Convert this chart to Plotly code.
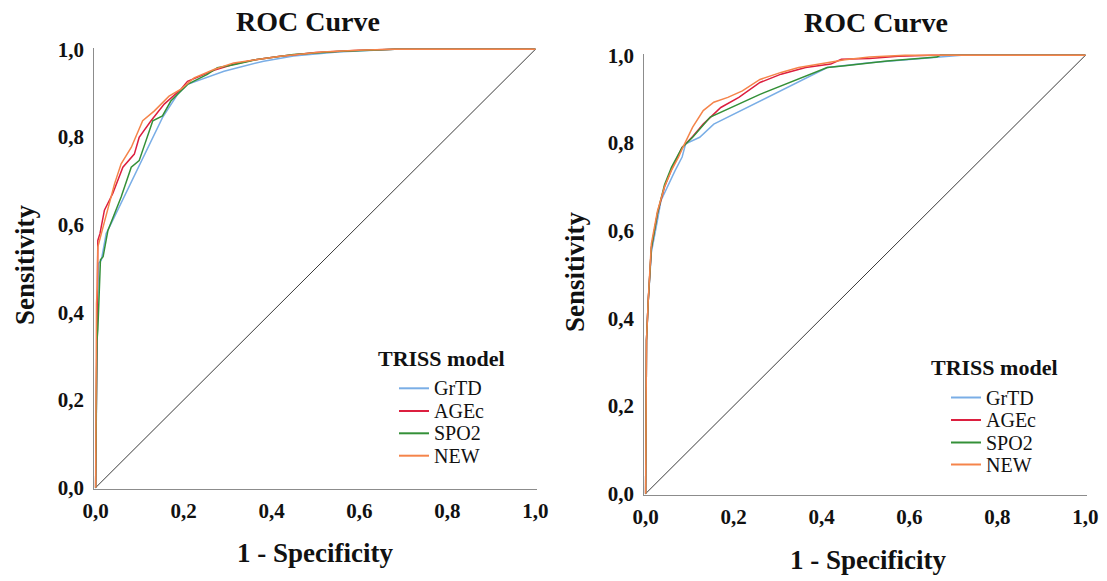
import plotly.graph_objects as go

W, H = 1107, 581
FONT = "Liberation Serif, Times New Roman, serif"

models = ["GrTD", "AGEc", "SPO2", "NEW"]
colors = {"GrTD": "#7aaee6", "AGEc": "#dc1f3f", "SPO2": "#349038", "NEW": "#f5844a"}

tick_vals = [0.0, 0.2, 0.4, 0.6, 0.8, 1.0]
tick_text = ["0,0", "0,2", "0,4", "0,6", "0,8", "1,0"]

# ---- Left chart: (1 - specificity, sensitivity) ----
left_grtd_x = [0, 0.002, 0.004, 0.007, 0.013, 0.024, 0.035, 0.152, 0.186, 0.209, 0.292, 0.382, 0.45, 0.55, 0.68, 1]
left_grtd_y = [0, 0.30, 0.40, 0.512, 0.519, 0.58, 0.602, 0.844, 0.897, 0.92, 0.95, 0.973, 0.985, 0.994, 1.0, 1]

left_agec_x = [0, 0.002, 0.004, 0.005, 0.01, 0.02, 0.039, 0.062, 0.088, 0.099, 0.126, 0.156, 0.194, 0.209, 0.269, 0.314, 0.367, 0.42, 0.5, 0.6, 0.68, 1]
left_agec_y = [0, 0.40, 0.47, 0.564, 0.58, 0.633, 0.671, 0.731, 0.761, 0.799, 0.837, 0.875, 0.909, 0.927, 0.952, 0.966, 0.977, 0.984, 0.993, 0.998, 1.0, 1]

left_spo2_x = [0, 0.003, 0.005, 0.008, 0.011, 0.017, 0.028, 0.058, 0.081, 0.099, 0.13, 0.152, 0.171, 0.209, 0.254, 0.277, 0.314, 0.367, 0.45, 0.55, 0.68, 1]
left_spo2_y = [0, 0.334, 0.36, 0.45, 0.52, 0.527, 0.587, 0.663, 0.731, 0.746, 0.837, 0.848, 0.882, 0.92, 0.943, 0.958, 0.965, 0.977, 0.988, 0.995, 1.0, 1]

left_new_x = [0, 0.002, 0.004, 0.005, 0.017, 0.032, 0.043, 0.058, 0.081, 0.107, 0.133, 0.167, 0.194, 0.224, 0.269, 0.314, 0.367, 0.42, 0.515, 0.596, 0.677, 1]
left_new_y = [0, 0.42, 0.46, 0.549, 0.595, 0.648, 0.693, 0.739, 0.776, 0.837, 0.859, 0.893, 0.909, 0.935, 0.954, 0.969, 0.977, 0.984, 0.994, 0.998, 1.0, 1]

# ---- Right chart ----
right_grtd_x = [0, 0.002, 0.006, 0.013, 0.027, 0.035, 0.067, 0.083, 0.091, 0.123, 0.155, 0.413, 0.509, 0.67, 0.718, 1]
right_grtd_y = [0, 0.35, 0.44, 0.55, 0.624, 0.669, 0.737, 0.768, 0.798, 0.813, 0.843, 0.972, 0.983, 0.995, 1.0, 1]

right_agec_x = [0, 0.002, 0.006, 0.013, 0.027, 0.043, 0.059, 0.083, 0.107, 0.131, 0.171, 0.212, 0.26, 0.308, 0.364, 0.421, 0.445, 0.509, 0.574, 0.65, 1]
right_agec_y = [0, 0.35, 0.44, 0.56, 0.64, 0.70, 0.74, 0.79, 0.815, 0.843, 0.881, 0.904, 0.938, 0.957, 0.972, 0.98, 0.991, 0.993, 0.998, 1.0, 1]

right_spo2_x = [0, 0.002, 0.006, 0.013, 0.027, 0.043, 0.059, 0.083, 0.107, 0.147, 0.26, 0.413, 0.453, 0.549, 0.662, 0.67, 1]
right_spo2_y = [0, 0.35, 0.44, 0.56, 0.64, 0.705, 0.745, 0.79, 0.813, 0.859, 0.911, 0.972, 0.976, 0.987, 0.996, 1.0, 1]

right_new_x = [0, 0.002, 0.006, 0.013, 0.027, 0.043, 0.059, 0.075, 0.088, 0.107, 0.131, 0.155, 0.187, 0.22, 0.26, 0.308, 0.348, 0.413, 0.453, 0.509, 0.59, 1]
right_new_y = [0, 0.35, 0.443, 0.57, 0.645, 0.70, 0.738, 0.768, 0.797, 0.836, 0.874, 0.893, 0.904, 0.919, 0.945, 0.961, 0.972, 0.983, 0.99, 0.996, 1.0, 1]

diag = [0, 1]

left_series = {"GrTD": (left_grtd_x, left_grtd_y), "AGEc": (left_agec_x, left_agec_y),
               "SPO2": (left_spo2_x, left_spo2_y), "NEW": (left_new_x, left_new_y)}
right_series = {"GrTD": (right_grtd_x, right_grtd_y), "AGEc": (right_agec_x, right_agec_y),
                "SPO2": (right_spo2_x, right_spo2_y), "NEW": (right_new_x, right_new_y)}

fig = go.Figure()

# diagonals
fig.add_trace(go.Scatter(x=diag, y=diag, mode="lines", line=dict(color="#3a3a3a", width=1),
                         showlegend=False, hoverinfo="skip", xaxis="x", yaxis="y"))
fig.add_trace(go.Scatter(x=diag, y=diag, mode="lines", line=dict(color="#3a3a3a", width=1),
                         showlegend=False, hoverinfo="skip", xaxis="x2", yaxis="y2"))

for m in models:
    xs, ys = left_series[m]
    fig.add_trace(go.Scatter(x=xs, y=ys, mode="lines", name=m, showlegend=False,
                             line=dict(color=colors[m], width=1.5), xaxis="x", yaxis="y"))
for m in models:
    xs, ys = right_series[m]
    fig.add_trace(go.Scatter(x=xs, y=ys, mode="lines", name=m, showlegend=False,
                             line=dict(color=colors[m], width=1.5), xaxis="x2", yaxis="y2"))

def px_x(p):
    return p / W

def px_y(p):
    return 1 - p / H

axis_common = dict(range=[-0.003, 1.003], showgrid=False, zeroline=False, showline=True,
                   linecolor="#8c8c8c", linewidth=1, ticks="", tickvals=tick_vals, ticktext=tick_text,
                   automargin=False,
                   tickfont=dict(family=FONT, size=21, color="#111", weight="bold"), fixedrange=True)

fig.update_layout(
    width=W, height=H, margin=dict(l=0, r=0, t=0, b=0, pad=0, autoexpand=False),
    paper_bgcolor="white", plot_bgcolor="white", showlegend=False,
    xaxis=dict(domain=[px_x(94.3), px_x(536.7)], anchor="y", **axis_common, ticklabelstandoff=3),
    yaxis=dict(domain=[px_y(489), px_y(48)], anchor="x", **axis_common, ticklabelstandoff=5),
    xaxis2=dict(domain=[px_x(644.3), px_x(1086.7)], anchor="y2", **axis_common, ticklabelstandoff=3),
    yaxis2=dict(domain=[px_y(495), px_y(54)], anchor="x2", **axis_common, ticklabelstandoff=5),
)

def ann(text, x, y, size, bold=True, angle=0, xanchor="center"):
    fig.add_annotation(text=text, x=px_x(x), y=px_y(y), xref="paper", yref="paper",
                       showarrow=False, textangle=angle, xanchor=xanchor, yanchor="middle",
                       font=dict(family=FONT, size=size, color="#111", weight="bold" if bold else "normal"))

ann("ROC Curve", 308, 22, 28)
ann("ROC Curve", 876, 23, 28)
ann("1 - Specificity", 315, 553, 27)
ann("1 - Specificity", 868, 560, 27)
ann("Sensitivity", 25, 265, 27, angle=-90)
ann("Sensitivity", 575, 272, 27, angle=-90)

# manual legends (title, sample lines, labels)
legend_specs = [
    dict(title_x=441, title_y=358, line_x0=399, line_x1=429, text_x=432, ys=[388.3, 411.0, 433.3, 455.7]),
    dict(title_x=994, title_y=367, line_x0=951, line_x1=981, text_x=984, ys=[397.5, 420.0, 442.5, 464.5]),
]
for spec in legend_specs:
    ann("TRISS model", spec["title_x"], spec["title_y"], 22)
    for m, yy in zip(models, spec["ys"]):
        fig.add_shape(type="line", xref="paper", yref="paper",
                      x0=px_x(spec["line_x0"]), x1=px_x(spec["line_x1"]), y0=px_y(yy), y1=px_y(yy),
                      line=dict(color=colors[m], width=2))
        ann(m, spec["text_x"], yy, 20, bold=False, xanchor="left")

fig.write_html("out.html")
